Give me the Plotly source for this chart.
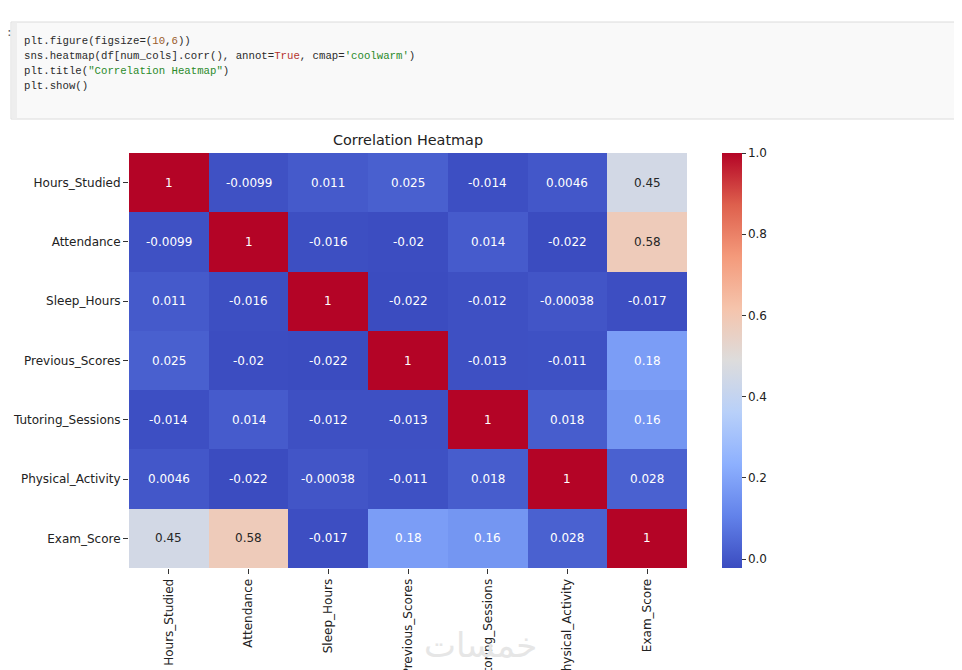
import plotly.graph_objects as go

# correlation matrix
cols = ["Hours_Studied", "Attendance", "Sleep_Hours", "Previous_Scores",
        "Tutoring_Sessions", "Physical_Activity", "Exam_Score"]
hours_studied = [1, -0.0099, 0.011, 0.025, -0.014, 0.0046, 0.45]
attendance = [-0.0099, 1, -0.016, -0.02, 0.014, -0.022, 0.58]
sleep_hours = [0.011, -0.016, 1, -0.022, -0.012, -0.00038, -0.017]
previous_scores = [0.025, -0.02, -0.022, 1, -0.013, -0.011, 0.18]
tutoring_sessions = [-0.014, 0.014, -0.012, -0.013, 1, 0.018, 0.16]
physical_activity = [0.0046, -0.022, -0.00038, -0.011, 0.018, 1, 0.028]
exam_score = [0.45, 0.58, -0.017, 0.18, 0.16, 0.028, 1]
cbar_ticks = [0, 0.2, 0.4, 0.6, 0.8, 1.0]

corr = [hours_studied, attendance, sleep_hours, previous_scores,
        tutoring_sessions, physical_activity, exam_score]
zmin = min(min(r) for r in corr)
zmax = 1

# matplotlib coolwarm
coolwarm = [[0.0, "#3b4cc0"], [0.125, "#6282ea"], [0.25, "#8db0fe"],
            [0.375, "#b8d0f9"], [0.5, "#dddcdc"], [0.625, "#f5c4ac"],
            [0.75, "#f49a7b"], [0.875, "#de604d"], [1.0, "#b40426"]]

# page has an 8px body margin, so work in page pixels and shift
OFF = 8
W, H = 962 - OFF, 670 - OFF
L, R, T, B = 129, 687, 153, 568   # plot area in page pixels
def px(x):
    return (x - L) / (R - L)
def py(y):
    return (B - y) / (B - T)

fig = go.Figure()
fig.add_trace(go.Heatmap(
    z=corr, x=cols, y=cols, zmin=zmin, zmax=zmax, colorscale=coolwarm,
    hoverinfo="skip",
    colorbar=dict(thickness=20, len=1, lenmode="fraction", y=0.5, yanchor="middle",
                  x=px(722), xanchor="left", outlinewidth=0, xpad=0, ypad=0,
                  tickvals=cbar_ticks, tickformat=".1f", ticks="outside",
                  ticklen=4, tickcolor="#333", tickwidth=1,
                  tickfont=dict(family="DejaVu Sans", size=12, color="#222"))
))

for i, row in enumerate(corr):
    for j, v in enumerate(row):
        s = (v - zmin) / (zmax - zmin)
        c = "#262626" if 0.35 < s < 0.75 else "white"
        fig.add_annotation(x=cols[j], y=cols[i], text=format(v, ".2g"), showarrow=False,
                           font=dict(family="DejaVu Sans", size=12, color=c))

fig.add_annotation(xref="paper", yref="paper", x=0.5, y=py(140), text="Correlation Heatmap",
                   showarrow=False, yanchor="middle",
                   font=dict(family="DejaVu Sans", size=14.4, color="#222"))

# notebook code cell above the figure
fig.add_shape(type="rect", xref="paper", yref="paper", x0=px(11), x1=px(975), y0=py(22), y1=py(119),
              fillcolor="#f9f9f9", line=dict(color="#dcdcdc", width=1), layer="below")
fig.add_shape(type="rect", xref="paper", yref="paper", x0=px(11.5), x1=px(17), y0=py(22.5), y1=py(118.5),
              fillcolor="#eeeeee", line=dict(width=0), layer="below")

num = "<span style='color:#9a5b2a'>%s</span>"
kw = "<span style='color:#b5332e'>%s</span>"
st = "<span style='color:#2a8a2a'>%s</span>"
code = [
    "plt.figure(figsize=(" + num % "10" + "," + num % "6" + "))",
    "sns.heatmap(df[num_cols].corr(), annot=" + kw % "True" + ", cmap=" + st % "'coolwarm'" + ")",
    "plt.title(" + st % '"Correlation Heatmap"' + ")",
    "plt.show()",
]
for k, line in enumerate(code):
    fig.add_annotation(xref="paper", yref="paper", x=px(22), y=py(41 + 15 * k), text=line,
                       showarrow=False, xanchor="left", yanchor="middle",
                       font=dict(family="Liberation Mono", size=10.7, color="#2b2b2b"))
fig.add_annotation(xref="paper", yref="paper", x=px(OFF + 1), y=py(33), text=":", showarrow=False,
                   xanchor="center", yanchor="middle",
                   font=dict(family="Liberation Mono", size=11, color="#555"))

# watermark
fig.add_annotation(xref="paper", yref="paper", x=px(480), y=py(645), text="خمسات", showarrow=False,
                   xanchor="center", yanchor="middle",
                   font=dict(family="DejaVu Sans", size=34, color="#e6e6e6"))

fig.update_layout(
    width=W, height=H,
    margin=dict(l=L - OFF, r=962 - R, t=T - OFF, b=670 - B, autoexpand=False),
    paper_bgcolor="white", plot_bgcolor="white",
    showlegend=False,
)
fig.update_xaxes(type="category", tickangle=-90, ticks="outside", ticklen=5, tickcolor="#333",
                 showgrid=False, zeroline=False, showline=False, automargin=False,
                 tickfont=dict(family="DejaVu Sans", size=12, color="#222"))
fig.update_yaxes(type="category", autorange="reversed", ticks="outside", ticklen=5, tickcolor="#333",
                 showgrid=False, zeroline=False, showline=False, automargin=False,
                 tickfont=dict(family="DejaVu Sans", size=12, color="#222"))

fig.write_html("out.html")
